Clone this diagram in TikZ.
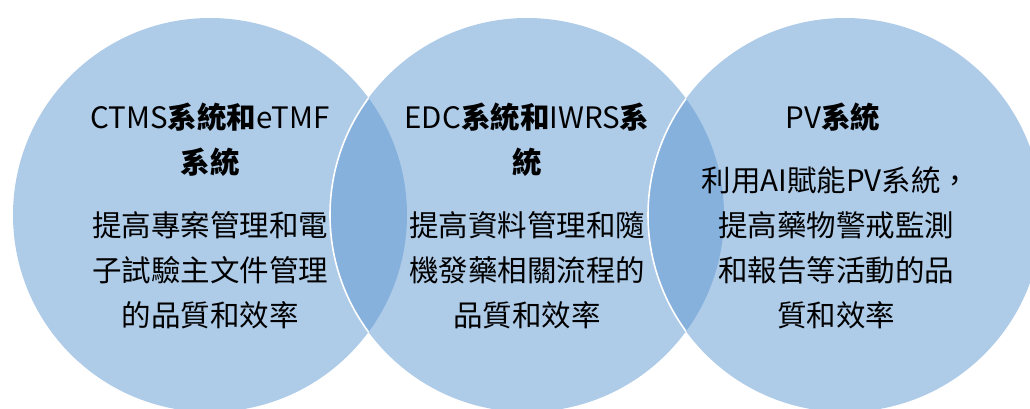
\documentclass[tikz,border=0pt]{standalone}
\usepackage{fontspec}
\setmainfont{Noto Sans CJK TC}
\definecolor{cblue}{RGB}{93,151,209}
\begin{document}
\begin{tikzpicture}[x=1pt,y=-1pt,
  disc/.style={circle, fill=cblue, fill opacity=0.5, draw=none, inner sep=0pt, minimum size=394pt},
  rim/.style={draw=white, line width=1.6pt},
  txt/.style={align=center, inner sep=0pt, text=black, font=\fontsize{29.5}{45}\selectfont}]
\useasboundingbox (0,0) rectangle (1030,408);
\node[disc] (c1) at (210,215) {};
\node[disc] (c2) at (527,215) {};
\node[disc] (c3) at (845,215) {};
\begin{scope}
  \clip (210,215) circle[radius=197];
  \draw[rim] (527,215) circle[radius=197];
\end{scope}
\begin{scope}
  \clip (527,215) circle[radius=197];
  \draw[rim] (845,215) circle[radius=197];
\end{scope}
\node[txt] (h1) at (210,140) {CTMS\textbf{系統和}eTMF\\\textbf{系統}};
\node[txt] (b1) at (210,270) {提高專案管理和電\\子試驗主文件管理\\的品質和效率};
\node[txt] (h2) at (527,140) {EDC\textbf{系統和}IWRS\textbf{系}\\\textbf{統}};
\node[txt] (b2) at (527,270) {提高資料管理和隨\\機發藥相關流程的\\品質和效率};
\node[txt] (h3) at (833,117) {PV\textbf{系統}};
\node[txt] (b3) at (836,248) {利用AI賦能PV系統，\\提高藥物警戒監測\\和報告等活動的品\\質和效率};
\end{tikzpicture}
\end{document}
